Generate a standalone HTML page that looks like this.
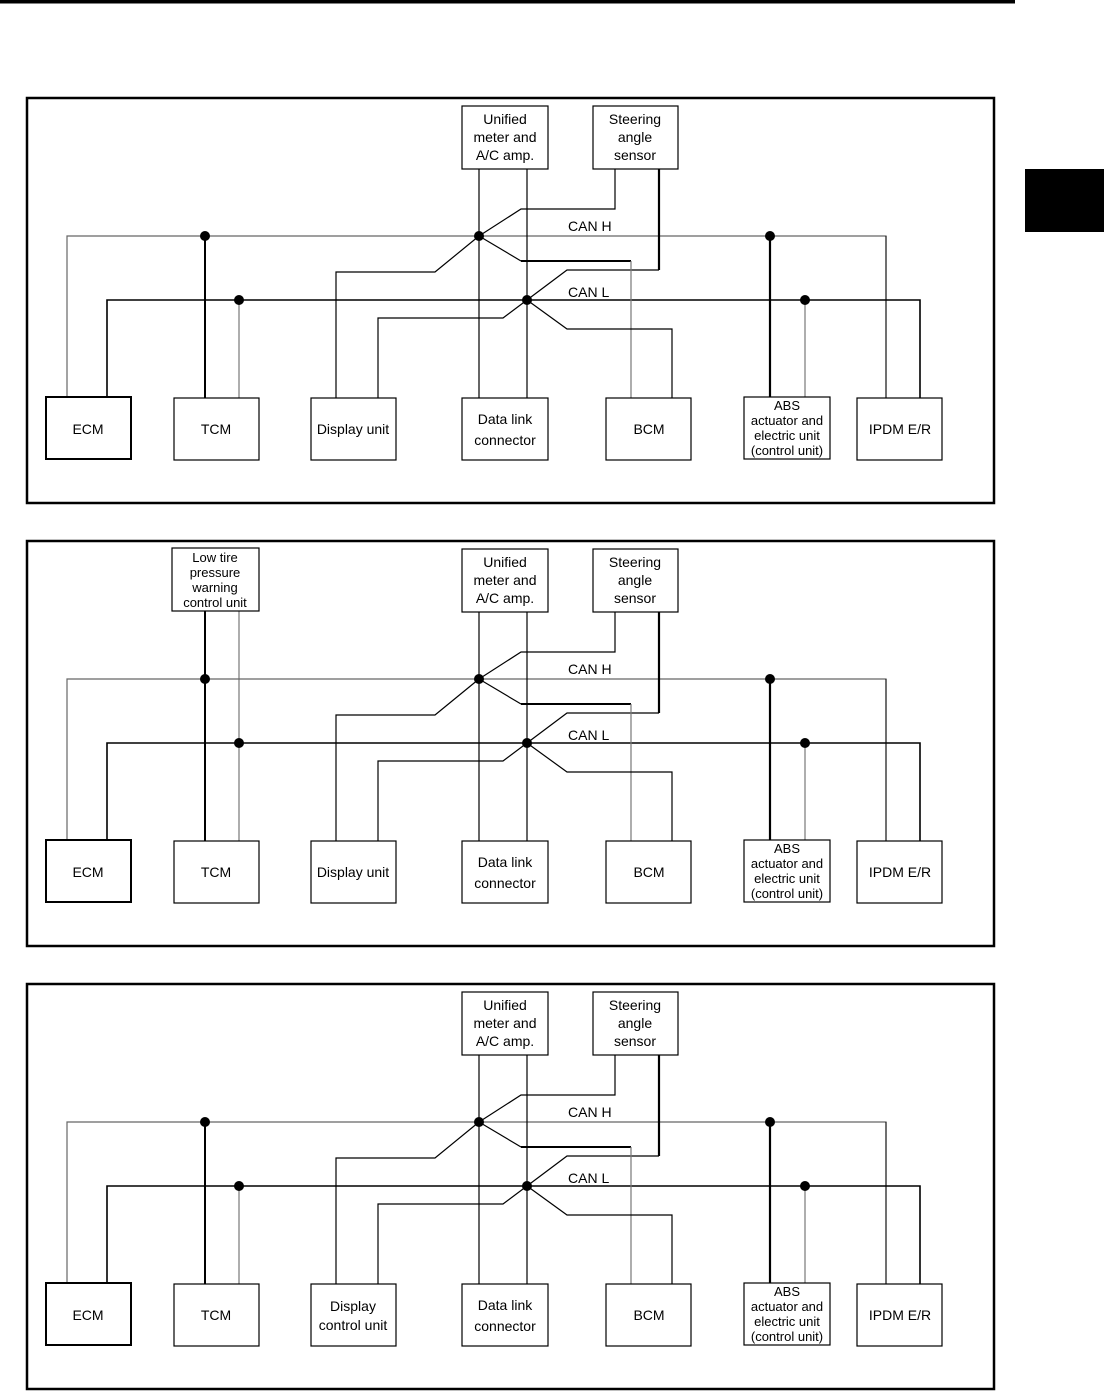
<!DOCTYPE html>
<html><head><meta charset="utf-8"><style>
html,body{margin:0;padding:0;background:#fff;}
svg{display:block;}
text{font-family:"Liberation Sans",Arial,sans-serif;font-size:14px;fill:#000;}
</style></head><body>
<svg width="1104" height="1391" viewBox="0 0 1104 1391" xmlns="http://www.w3.org/2000/svg">
<defs>
<g id="common">
  <rect x="27" y="98" width="967" height="405" fill="none" stroke="#000" stroke-width="2.5"/>
  <polyline points="67,397 67,236 886,236 886,398" fill="none" stroke="#666" stroke-width="1.2"/>
  <line x1="886" y1="236" x2="886" y2="398" stroke="#000" stroke-width="1"/>
  <polyline points="107,397 107,300 920,300 920,398" fill="none" stroke="#000" stroke-width="1.6"/>
  <line x1="770" y1="236" x2="770" y2="397" stroke="#000" stroke-width="2.2"/>
  <line x1="805" y1="300" x2="805" y2="397" stroke="#777" stroke-width="1.2"/>
  <polyline points="336,398 336,272 435,272 479,236" fill="none" stroke="#000" stroke-width="1.2"/>
  <polyline points="378,398 378,318 503,318 527,300" fill="none" stroke="#000" stroke-width="1.2"/>
  <line x1="479" y1="169" x2="479" y2="398" stroke="#000" stroke-width="1.2"/>
  <line x1="527" y1="169" x2="527" y2="398" stroke="#000" stroke-width="1.2"/>
  <polyline points="615,169 615,209 521,209 479,236" fill="none" stroke="#000" stroke-width="1.2"/>
  <line x1="659" y1="169" x2="659" y2="270" stroke="#000" stroke-width="2.2"/>
  <polyline points="659,270 567,270 527,300" fill="none" stroke="#000" stroke-width="1.2"/>
  <polyline points="479,236 521,261" fill="none" stroke="#000" stroke-width="1.2"/>
  <line x1="521" y1="261" x2="631" y2="261" stroke="#000" stroke-width="2"/>
  <line x1="631" y1="261" x2="631" y2="398" stroke="#777" stroke-width="1.2"/>
  <polyline points="527,300 567,329 672,329 672,398" fill="none" stroke="#000" stroke-width="1.2"/>
  <circle cx="205" cy="236" r="5"/><circle cx="479" cy="236" r="5"/><circle cx="770" cy="236" r="5"/>
  <circle cx="239" cy="300" r="5"/><circle cx="527" cy="300" r="5"/><circle cx="805" cy="300" r="5"/>
  <text x="568" y="231">CAN H</text>
  <text x="568" y="297">CAN L</text>
  <rect x="462" y="106" width="86" height="63" fill="#fff" stroke="#000" stroke-width="1.2"/>
  <text x="505" y="124" text-anchor="middle">Unified</text>
  <text x="505" y="142" text-anchor="middle">meter and</text>
  <text x="505" y="160" text-anchor="middle">A/C amp.</text>
  <rect x="593" y="106" width="85" height="63" fill="#fff" stroke="#000" stroke-width="1.2"/>
  <text x="635" y="124" text-anchor="middle">Steering</text>
  <text x="635" y="142" text-anchor="middle">angle</text>
  <text x="635" y="160" text-anchor="middle">sensor</text>
  <rect x="46" y="397" width="85" height="62" fill="#fff" stroke="#000" stroke-width="2"/>
  <text x="88" y="434" text-anchor="middle">ECM</text>
  <rect x="174" y="398" width="85" height="62" fill="#fff" stroke="#000" stroke-width="1.2"/>
  <text x="216" y="434" text-anchor="middle">TCM</text>
  <rect x="462" y="398" width="86" height="62" fill="#fff" stroke="#000" stroke-width="1.2"/>
  <text x="505" y="424" text-anchor="middle">Data link</text>
  <text x="505" y="445" text-anchor="middle">connector</text>
  <rect x="606" y="398" width="85" height="62" fill="#fff" stroke="#000" stroke-width="1.2"/>
  <text x="649" y="434" text-anchor="middle">BCM</text>
  <rect x="744" y="397" width="86" height="62" fill="#fff" stroke="#000" stroke-width="1.2"/>
  <text x="787" y="410" text-anchor="middle" style="font-size:13px">ABS</text>
  <text x="787" y="425" text-anchor="middle" style="font-size:13px">actuator and</text>
  <text x="787" y="440" text-anchor="middle" style="font-size:13px">electric unit</text>
  <text x="787" y="455" text-anchor="middle" style="font-size:13px">(control unit)</text>
  <rect x="857" y="398" width="85" height="62" fill="#fff" stroke="#000" stroke-width="1.2"/>
  <text x="900" y="434" text-anchor="middle">IPDM E/R</text>
  <rect x="311" y="398" width="85" height="62" fill="#fff" stroke="#000" stroke-width="1.2"/>
</g>
</defs>
<rect x="0" y="0" width="1015" height="3.5" fill="#000"/>
<rect x="1025" y="169" width="79" height="63" fill="#000"/>

<g>
  <line x1="205" y1="236" x2="205" y2="398" stroke="#000" stroke-width="2"/>
  <line x1="239" y1="300" x2="239" y2="398" stroke="#777" stroke-width="1.2"/>
  <use href="#common"/>
  <text x="353" y="434" text-anchor="middle">Display unit</text>
</g>

<g transform="translate(0,443)">
  <line x1="205" y1="168" x2="205" y2="398" stroke="#000" stroke-width="2"/>
  <line x1="239" y1="168" x2="239" y2="398" stroke="#777" stroke-width="1.2"/>
  <use href="#common"/>
  <rect x="172" y="105" width="87" height="63" fill="#fff" stroke="#000" stroke-width="1.2"/>
  <text x="215" y="119" text-anchor="middle" style="font-size:13px">Low tire</text>
  <text x="215" y="134" text-anchor="middle" style="font-size:13px">pressure</text>
  <text x="215" y="149" text-anchor="middle" style="font-size:13px">warning</text>
  <text x="215" y="164" text-anchor="middle" style="font-size:13px">control unit</text>
  <text x="353" y="434" text-anchor="middle">Display unit</text>
</g>

<g transform="translate(0,886)">
  <line x1="205" y1="236" x2="205" y2="398" stroke="#000" stroke-width="2"/>
  <line x1="239" y1="300" x2="239" y2="398" stroke="#777" stroke-width="1.2"/>
  <use href="#common"/>
  <text x="353" y="425" text-anchor="middle">Display</text>
  <text x="353" y="444" text-anchor="middle">control unit</text>
</g>
</svg>
</body></html>
